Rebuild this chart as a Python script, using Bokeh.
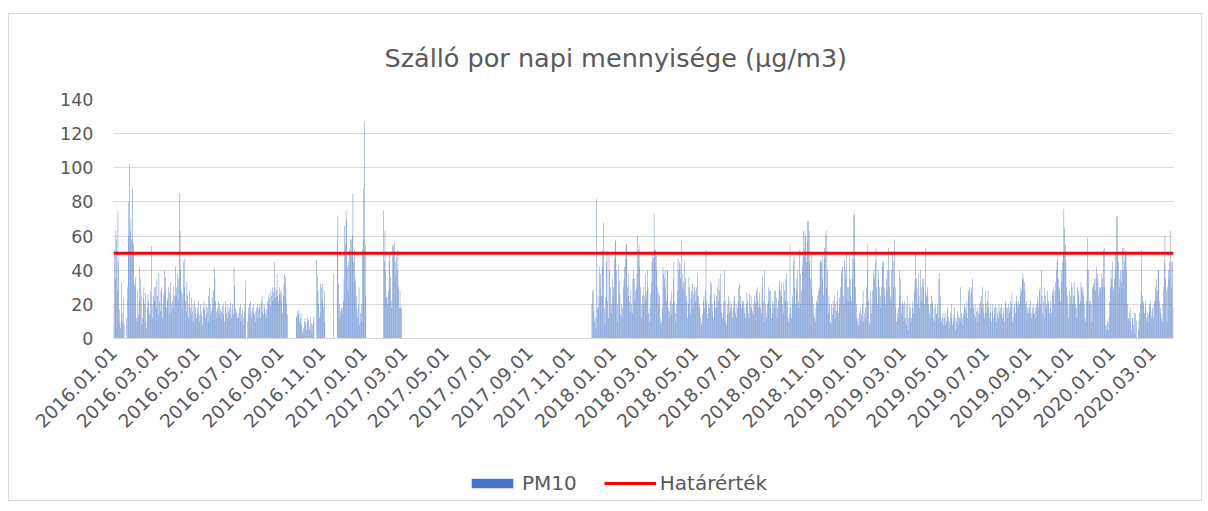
import numpy as np
import pandas as pd
from math import pi
from bokeh.plotting import figure
from bokeh.layouts import column
from bokeh.models import ColumnDataSource, Legend, LegendItem, FixedTicker, Range1d
from bokeh.embed import file_html
from bokeh.resources import INLINE

N = None
jan16 = [20, 52, 35, 63, 58, 28, 75, 45, 17, 9, 6, 33, 15, 10, 24, 8, N, N, N, 12, 30, 80, 60, 102, 63, 70, 58, 88, 57, 55, 32]
feb16 = [30, 36, 12, 10, 28, 14, 22, 42, 35, 25, 8, 12, 24, 30, 20, 27, 10, 6, 18, 26, 22, 14, 16, 28, 54, 20, 12, 25, 30]
mar16 = [22, 30, 18, 35, 25, 14, 38, 22, 16, 28, 30, 12, 20, 26, 40, 28, 36, 18, 24, 22, 30, 15, 27, 33, 20, 16, 22, 30, 18, 25, 42]
apr16 = [25, 30, 38, 22, 35, 85, 63, 40, 28, 18, 26, 45, 30, 47, 22, 16, 33, 25, 12, 20, 28, 18, 14, 24, 16, 20, 10, 22, 15, 18]
may16 = [12, 18, 15, 22, 10, 14, 20, 16, 13, 8, 18, 22, 17, 12, 20, 15, 18, 10, 25, 30, 20, 14, 16, 24, 18, 28, 42, 35, 22, 16, 12]
jun16 = [18, 22, 14, 20, 17, 12, 16, 19, 20, 14, 10, 18, 22, 15, 12, 20, 16, 18, 14, 21, 12, 17, 20, 14, 42, 31, 18, 14, 16, 12]
jul16 = [15, 12, 18, 20, 10, 14, 17, 8, 12, 16, 20, 34, N, N, 10, 18, 14, 20, 22, 16, 12, 18, 20, 15, 14, 10, 16, 18, 20, 12, 17]
aug16 = [18, 20, 12, 22, 25, 16, 14, 20, 18, 15, 12, 17, 22, 20, 26, 24, 19, 28, 25, 30, 22, 27, 45, 30, 24, 28, 38, 25, 22, 30, 26]
sep16 = [28, 27, 22, 15, 25, 32, 38, 36, 30, 20, 14, N, N, N, N, N, N, N, N, N, N, N, N, 13, 12, 16, 14, 17, 10, 12]
oct16 = [15, 8, 4, 3, 6, 10, 12, 8, 5, 10, 13, 11, 7, 5, 12, 9, 4, 8, 13, 10, N, N, N, 46, 37, 28, 20, 12, 15, 32, 30]
nov16 = [22, 32, 18, 28, 10, N, N, N, N, N, N, N, N, N, N, N, N, 38, N, N, N, N, 56, 72, 32, 20, 12, 16, 18, 14]
dec16 = [18, 22, 35, 66, 55, 75, 70, 42, 28, 45, 52, 58, 50, 58, 60, 85, 45, 52, 35, 33, 25, 18, 12, 20, 30, 8, 15, 10, 20, 52, 58]
jan17 = [88, 127, 55, 25, N, N, N, N, N, N, N, N, N, N, N, N, N, N, N, N, N, N, N, N, N, N, N, N, N, 75, 45]
feb17 = [63, 40, 24, 24, 20, 28, 45, 50, 36, 22, 18, 55, 54, 48, 56, 45, 37, 48, 40, 52, 30, 18, 28, 18, 18, N, N, N]
mar17 = [N] * 31
apr17 = [N] * 30
may17 = [N] * 31
jun17 = [N] * 30
jul17 = [N] * 31
aug17 = [N] * 31
sep17 = [N] * 30
oct17 = [N] * 31
nov17 = [N] * 30
dec17 = [20, 28, 29, 16, 10, 12, 6, 82, 17, 25, 18, 42, 30, 38, 25, 42, 52, 68, 18, 8, 24, 45, 51, 22, 12, 51, 40, 30, 15, 20, 35]
jan18 = [25, 30, 47, 58, 57, 40, 20, 10, 43, 34, 26, 14, 20, 12, 18, 30, 35, 42, 47, 55, 55, 30, 25, 38, 22, 16, 28, 20, 15, 35, 40]
feb18 = [35, 22, 28, 30, 38, 60, 52, 55, 42, 30, 20, 12, 25, 30, 20, 25, 38, 22, 28, 40, 30, 15, 10, 18, 26, 33, 45, 50]
mar18 = [47, 73, 52, 52, 48, 40, 30, 20, 27, 25, 12, 8, 10, 18, 42, 38, 35, 40, 30, 22, 40, 40, 18, 12, 16, 22, 28, 14, 20, 35, 45]
apr18 = [22, 15, 10, 20, 28, 47, 40, 45, 44, 35, 57, 38, 30, 33, 28, 45, 35, 25, 22, 12, 20, 36, 30, 15, 24, 28, 32, 18, 26, 30]
may18 = [28, 22, 30, 25, 38, 25, 20, 18, 12, 8, 10, 14, 22, 25, 18, 28, 52, 22, 12, 15, 20, 18, 25, 33, 32, 20, 16, 12, 22, 26, 18]
jun18 = [25, 18, 30, 22, 35, 28, 38, 20, 15, 12, 15, 22, 40, 22, 10, 8, 14, 20, 25, 15, 22, 18, 20, 16, 12, 18, 22, 25, 15, 20]
jul18 = [12, 18, 22, 30, 32, 20, 25, 18, 22, 20, 22, 15, 18, 12, 20, 27, 22, 15, 12, 26, 20, 25, 18, 16, 20, 14, 25, 20, 22, 28, 30]
aug18 = [22, 18, 27, 20, 18, 15, 30, 37, 22, 10, 40, 20, 15, 12, 20, 22, 30, 28, 28, 18, 12, 22, 15, 20, 28, 18, 28, 24, 12, 18, 22]
sep18 = [30, 34, 28, 25, 33, 20, 15, 33, 28, 22, 35, 38, 22, 12, 10, 14, 55, 18, 12, 20, 25, 45, 48, 30, 20, 28, 35, 40, 22, 18]
oct18 = [52, 38, 20, 28, 42, 48, 63, 52, 62, 60, 45, 57, 69, 69, 63, 45, 35, 50, 30, 25, 20, 14, 12, 10, 18, 22, 25, 20, 28, 30, 45]
nov18 = [46, 45, 50, 35, 25, 47, 53, 61, 30, 63, 40, 15, 25, 20, 10, 8, 20, 14, 22, 18, 25, 12, 20, 16, 22, 28, 15, 20, 24, 30]
dec18 = [38, 40, 42, 25, 20, 46, 40, 35, 50, 30, 22, 30, 48, 35, 25, 22, 35, 47, 72, 73, 45, 30, 20, 12, 10, 8, 12, 15, 18, 10, 14]
jan19 = [20, 28, 10, 15, 12, 18, 30, 40, 55, 22, 10, 8, 28, 15, 20, 28, 38, 40, 35, 45, 53, 30, 20, 40, 35, 30, 18, 25, 30, 42, 45]
feb19 = [45, 30, 25, 20, 35, 28, 40, 53, 40, 30, 25, 22, 40, 50, 45, 30, 58, 30, 18, 10, 15, 12, 18, 40, 25, 35, 15, 20]
mar19 = [22, 20, 10, 22, 12, 20, 8, 25, 5, 12, 20, 18, 10, 12, 18, 22, 15, 28, 35, 50, 35, 30, 20, 38, 25, 18, 40, 30, 22, 35, 30]
apr19 = [35, 20, 53, 28, 25, 30, 25, 20, 15, 12, 20, 25, 20, 22, 12, 18, 10, 20, 14, 15, 20, 12, 35, 38, 25, 12, 10, 12, 15, 8]
may19 = [12, 15, 8, 10, 14, 18, 12, 6, 10, 15, 20, 12, 8, 10, 14, 18, 5, 12, 10, 16, 8, 14, 12, 10, 30, 15, 12, 8, 14, 18, 20]
jun19 = [18, 15, 22, 12, 28, 25, 30, 18, 27, 30, 35, 20, 18, 14, 20, 12, 16, 10, 18, 15, 20, 14, 22, 25, 18, 30, 20, 15, 12, 28]
jul19 = [20, 15, 22, 28, 18, 12, 20, 15, 10, 16, 20, 12, 18, 14, 20, 10, 18, 15, 12, 20, 16, 18, 14, 20, 12, 18, 15, 10, 20, 22, 18]
aug19 = [18, 12, 20, 15, 18, 22, 20, 27, 10, 12, 18, 20, 15, 22, 25, 20, 18, 22, 20, 25, 30, 28, 35, 38, 35, 33, 28, 20, 22, 15, 18]
sep19 = [15, 20, 18, 22, 15, 12, 18, 20, 14, 15, 18, 12, 20, 22, 25, 18, 28, 30, 20, 40, 25, 15, 22, 12, 30, 25, 18, 20, 28, 22]
oct19 = [20, 15, 18, 22, 15, 28, 25, 30, 20, 28, 33, 40, 45, 48, 35, 30, 28, 22, 33, 40, 45, 50, 76, 65, 55, 45, 30, 25, 20, 12, 28]
nov19 = [20, 25, 33, 30, 20, 25, 33, 25, 20, 18, 12, 30, 28, 25, 20, 22, 33, 30, 28, 30, 25, 20, 12, 10, 22, 40, 59, 40, 20, 22]
dec19 = [22, 20, 10, 30, 32, 30, 35, 28, 35, 42, 38, 34, 25, 30, 28, 30, 38, 30, 35, 52, 53, 30, 8, 5, 8, 10, 5, 12, 22, 30, 40]
jan20 = [35, 45, 28, 30, 35, 40, 50, 71, 72, 50, 45, 30, 35, 40, 33, 40, 53, 40, 53, 45, 50, 52, 40, 20, 10, 12, 15, 18, 10, 5, 12]
feb20 = [12, 8, 15, 3, 15, 10, N, N, 5, 10, 15, 20, 28, 52, 25, 22, 20, 15, 22, 18, 12, 15, 10, 14, 20, 18, 22, 12, 16]
mar20 = [18, 12, 20, 22, 30, 25, 35, 28, 40, 40, 22, 18, 15, 12, 10, 20, 30, 45, 60, 35, 28, 10, 30, 40, 35, 45, 63, 45, 30, 45, 18]

limit_value = 50  # Határérték
y_ticks = [0, 20, 40, 60, 80, 100, 120, 140]
x_tick_labels = ["2016.01.01", "2016.03.01", "2016.05.01", "2016.07.01", "2016.09.01", "2016.11.01",
                 "2017.01.01", "2017.03.01", "2017.05.01", "2017.07.01", "2017.09.01", "2017.11.01",
                 "2018.01.01", "2018.03.01", "2018.05.01", "2018.07.01", "2018.09.01", "2018.11.01",
                 "2019.01.01", "2019.03.01", "2019.05.01", "2019.07.01", "2019.09.01", "2019.11.01",
                 "2020.01.01", "2020.03.01"]

months = [jan16, feb16, mar16, apr16, may16, jun16, jul16, aug16, sep16, oct16, nov16, dec16,
          jan17, feb17, mar17, apr17, may17, jun17, jul17, aug17, sep17, oct17, nov17, dec17,
          jan18, feb18, mar18, apr18, may18, jun18, jul18, aug18, sep18, oct18, nov18, dec18,
          jan19, feb19, mar19, apr19, may19, jun19, jul19, aug19, sep19, oct19, nov19, dec19,
          jan20, feb20, mar20]

pm10 = np.array([np.nan if v is None else v for m in months for v in m], dtype=float)
start = pd.Timestamp("2016-01-01")
day = np.arange(len(pm10))
tick_pos = [int((pd.Timestamp(t.replace(".", "-")) - start).days) for t in x_tick_labels]
lim_x = [day[0] - 0.5, day[-1] + 0.5]
lim_y = [limit_value, limit_value]

FONT = "DejaVu Sans"
TXT = "#595959"
GRID = "#D9D9D9"
BLUE = "#4472C4"
RED = "#FF0000"

src = ColumnDataSource(dict(day=day, pm10=pm10))

# ---- main chart ----
p = figure(width=1192, height=447, output_backend="svg", toolbar_location=None,
           x_range=Range1d(-0.5, len(pm10) - 0.5), y_range=Range1d(y_ticks[0], y_ticks[-1]),
           min_border_left=104, min_border_right=28, min_border_top=85, min_border_bottom=123)
p.outline_line_color = None

bars = p.vbar(x="day", top="pm10", width=0.6, source=src, fill_color=BLUE, line_color=None)
lim = p.line(x=lim_x, y=lim_y, line_color=RED, line_width=3)

p.title.text = "Szálló por napi mennyisége (µg/m3)"
p.title.align = "left"
p.title.offset = 271
p.title.standoff = 53
p.title.text_font = FONT
p.title.text_font_size = "25.5px"
p.title.text_font_style = "normal"
p.title.text_color = TXT

p.xgrid.visible = False
p.ygrid.ticker = FixedTicker(ticks=y_ticks)
p.ygrid.grid_line_color = GRID
p.ygrid.grid_line_width = 1

p.yaxis.ticker = FixedTicker(ticks=y_ticks)
p.yaxis.axis_line_color = None
p.yaxis.major_tick_line_color = None
p.yaxis.minor_tick_line_color = None
p.yaxis.major_tick_out = 0
p.yaxis.major_tick_in = 0
p.yaxis.minor_tick_out = 0
p.yaxis.major_label_standoff = 20
p.yaxis.major_label_text_font = FONT
p.yaxis.major_label_text_font_size = "17.5px"
p.yaxis.major_label_text_color = TXT

p.xaxis.ticker = FixedTicker(ticks=tick_pos)
p.xaxis.major_label_overrides = {tp: lb for tp, lb in zip(tick_pos, x_tick_labels)}
p.xaxis.major_label_orientation = pi / 4
p.xaxis.axis_line_color = GRID
p.xaxis.major_tick_line_color = None
p.xaxis.minor_tick_line_color = None
p.xaxis.major_tick_out = 0
p.xaxis.major_tick_in = 0
p.xaxis.minor_tick_out = 0
p.xaxis.major_label_standoff = 11
p.xaxis.major_label_text_font = FONT
p.xaxis.major_label_text_font_size = "18.5px"
p.xaxis.major_label_text_color = TXT

# ---- legend strip: hidden proxies share the series styling ----
lg = figure(width=1192, height=39, output_backend="svg", toolbar_location=None,
            x_axis_type=None, y_axis_type=None,
            x_range=Range1d(0, 1), y_range=Range1d(0, 1), min_border=0)
lg.outline_line_color = None
lg.xgrid.visible = False
lg.ygrid.visible = False
lbars = lg.vbar(x="day", top="pm10", width=0.6, source=src, fill_color=BLUE, line_color=None)
llim = lg.line(x=lim_x, y=lim_y, line_color=RED, line_width=3)
lbars.visible = False
llim.visible = False

legend = Legend(items=[LegendItem(label="PM10", renderers=[lbars]),
                       LegendItem(label="Határérték", renderers=[llim])],
                orientation="horizontal", location=(353, 5),
                glyph_width=52, glyph_height=12, label_standoff=4, spacing=27,
                padding=0, margin=0, border_line_color=None, background_fill_alpha=0,
                inactive_fill_alpha=0,
                label_text_font=FONT, label_text_font_size="20px", label_text_color=TXT)
lg.add_layout(legend, "center")

layout = column(p, lg, spacing=0,
                styles={"border": "1px solid #D9D9D9", "margin": "13px 0px 0px 8px"})

open("out.html", "w").write(file_html(layout, INLINE))
